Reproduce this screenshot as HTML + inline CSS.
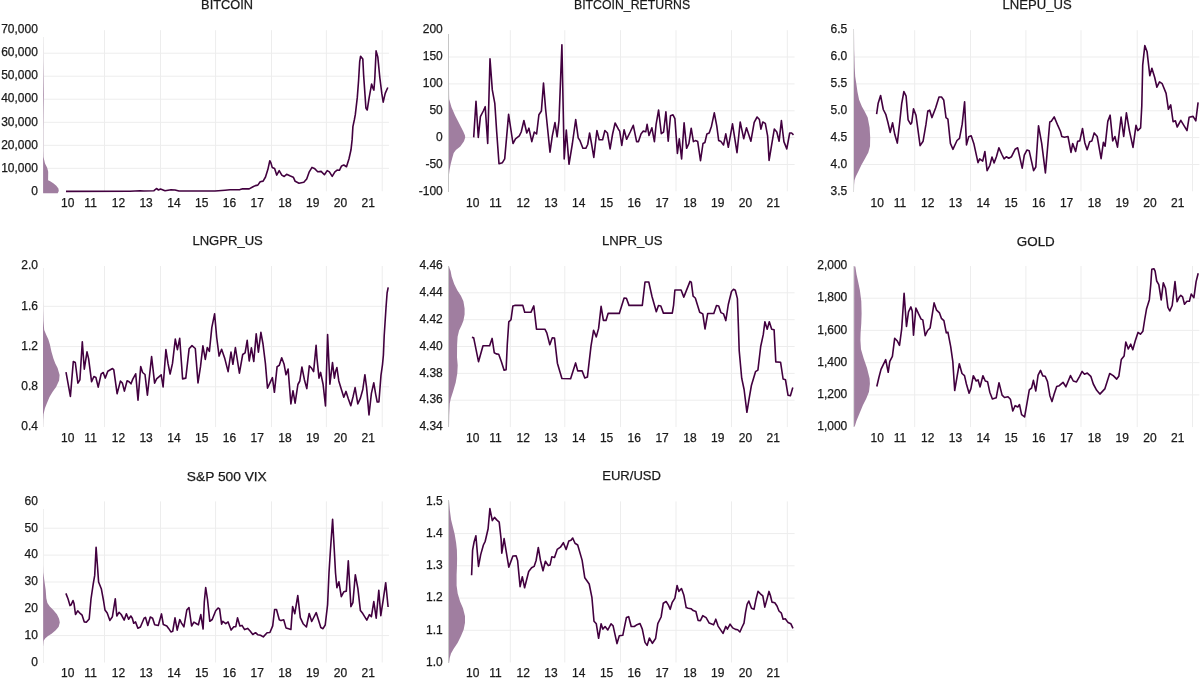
<!DOCTYPE html><html><head><meta charset="utf-8"><style>html,body{margin:0;padding:0;background:#fff;width:1200px;height:678px;overflow:hidden}svg{display:block;will-change:transform}text{font-family:"Liberation Sans",sans-serif;fill:#1a1a1a;stroke:#1a1a1a;stroke-width:0.25px}</style></head><body>
<svg width="1200" height="678" viewBox="0 0 1200 678">
<rect width="1200" height="678" fill="#fff"/>
<path d="M104.5 30.2V191.3M160.5 30.2V191.3M215.6 30.2V191.3M271.5 30.2V191.3M326.4 30.2V191.3M382.2 30.2V191.3M43.2 168.3H389M43.2 145.3H389M43.2 122.3H389M43.2 99.2H389M43.2 76.2H389M43.2 53.2H389" stroke="#ededed" stroke-width="1" fill="none"/>
<text x="37.9" y="194.5" font-size="12" text-anchor="end">0</text>
<text x="37.9" y="171.5" font-size="12" text-anchor="end">10,000</text>
<text x="37.9" y="148.5" font-size="12" text-anchor="end">20,000</text>
<text x="37.9" y="125.5" font-size="12" text-anchor="end">30,000</text>
<text x="37.9" y="102.4" font-size="12" text-anchor="end">40,000</text>
<text x="37.9" y="79.4" font-size="12" text-anchor="end">50,000</text>
<text x="37.9" y="56.4" font-size="12" text-anchor="end">60,000</text>
<text x="37.9" y="33.4" font-size="12" text-anchor="end">70,000</text>
<text x="67.8" y="206.9" font-size="12" text-anchor="middle">10</text>
<text x="90.6" y="206.9" font-size="12" text-anchor="middle">11</text>
<text x="118.4" y="206.9" font-size="12" text-anchor="middle">12</text>
<text x="146.1" y="206.9" font-size="12" text-anchor="middle">13</text>
<text x="173.9" y="206.9" font-size="12" text-anchor="middle">14</text>
<text x="201.7" y="206.9" font-size="12" text-anchor="middle">15</text>
<text x="229.4" y="206.9" font-size="12" text-anchor="middle">16</text>
<text x="257.2" y="206.9" font-size="12" text-anchor="middle">17</text>
<text x="285" y="206.9" font-size="12" text-anchor="middle">18</text>
<text x="312.8" y="206.9" font-size="12" text-anchor="middle">19</text>
<text x="340.5" y="206.9" font-size="12" text-anchor="middle">20</text>
<text x="368.3" y="206.9" font-size="12" text-anchor="middle">21</text>
<text x="201.1" y="9.3" font-size="13.3" textLength="51.9" lengthAdjust="spacingAndGlyphs">BITCOIN</text>
<rect x="43" y="37" width="1" height="156" fill="#efefef"/>
<path d="M43.1 38 L43.2 60 L43.5 78 L43.8 95 L43.5 112 L43.3 130 L43.3 150 L43.5 157 L44.2 160 L45 163.5 L47.2 167.7 L48.2 171.7 L48.1 180.2 L50.2 181.2 L53.3 183.2 L56.3 185.8 L58.4 188.5 L58.8 191 L57.7 193.3 L43.1 193.3 Z" fill="#a07ea0"/>
<polyline points="66,191.4 130,191.2 140,190.7 144,191 154,190.7 156.5,188.5 158.5,190 160.5,189 165,190.7 171,189.7 175,190 179,191 215,191 225,190.2 230,189.8 240,189.6 242,188.9 249.2,188.9 253,186.8 255.4,185.6 257.8,185.1 260.2,181.8 263.1,181.1 265.5,177 267.9,169.3 269.8,160.7 271,163.1 272.2,167.4 274.6,168.4 276.7,175.1 279.2,170.7 281.8,175.1 284.2,176.5 286.6,174.3 290.4,176 293.3,177.2 295.2,181.3 299,183.2 303.8,182.3 306.7,178.9 309.1,172.2 312,167.4 314.4,168.4 317.7,171.7 321.1,171.4 324.4,174.7 327.2,170.6 329.4,171.9 332.2,176.4 334.9,171.9 337.1,170.1 339.4,170.3 341.6,165.9 343.8,165 346.5,166.7 349,158.7 351,149.8 352.1,139.9 352.9,126.6 354.3,120 355.3,114.7 357.3,97.4 358.6,80.2 359.7,61.6 360.6,56.2 362.8,58.9 363.6,74.8 365,94.8 365.9,108 367.2,110 369.2,97.4 371.6,84.1 372.9,88.1 373.9,90.1 374.8,78.8 376.1,50.9 377.8,56.9 379.8,77.5 381.8,93.4 383.2,102.1 385.2,93.4 387.8,87.5" fill="none" stroke="#42003f" stroke-width="1.6" stroke-linejoin="round"/>
<path d="M510.3 30.2V191.3M564.8 30.2V191.3M620.5 30.2V191.3M676 30.2V191.3M731.5 30.2V191.3M787.3 30.2V191.3M449 164.5H794.6M449 137.6H794.6M449 110.8H794.6M449 83.9H794.6M449 57H794.6" stroke="#ededed" stroke-width="1" fill="none"/>
<text x="442.8" y="194.5" font-size="12" text-anchor="end">-100</text>
<text x="442.8" y="167.7" font-size="12" text-anchor="end">-50</text>
<text x="442.8" y="140.8" font-size="12" text-anchor="end">0</text>
<text x="442.8" y="114" font-size="12" text-anchor="end">50</text>
<text x="442.8" y="87.1" font-size="12" text-anchor="end">100</text>
<text x="442.8" y="60.2" font-size="12" text-anchor="end">150</text>
<text x="442.8" y="33.4" font-size="12" text-anchor="end">200</text>
<text x="472.7" y="206.9" font-size="12" text-anchor="middle">10</text>
<text x="495.5" y="206.9" font-size="12" text-anchor="middle">11</text>
<text x="523.3" y="206.9" font-size="12" text-anchor="middle">12</text>
<text x="551" y="206.9" font-size="12" text-anchor="middle">13</text>
<text x="578.8" y="206.9" font-size="12" text-anchor="middle">14</text>
<text x="606.6" y="206.9" font-size="12" text-anchor="middle">15</text>
<text x="634.3" y="206.9" font-size="12" text-anchor="middle">16</text>
<text x="662.1" y="206.9" font-size="12" text-anchor="middle">17</text>
<text x="689.9" y="206.9" font-size="12" text-anchor="middle">18</text>
<text x="717.7" y="206.9" font-size="12" text-anchor="middle">19</text>
<text x="745.4" y="206.9" font-size="12" text-anchor="middle">20</text>
<text x="773.2" y="206.9" font-size="12" text-anchor="middle">21</text>
<text x="574" y="9.3" font-size="13.3" textLength="116.1" lengthAdjust="spacingAndGlyphs">BITCOIN_RETURNS</text>
<rect x="448" y="34" width="1" height="158" fill="#c6c6c6"/>
<path d="M449 80 L449.1 95 L449.2 99.2 L451.5 107.3 L455.1 115.4 L459.6 124.2 L463.3 131.6 L465 135.5 L465.2 137.5 L464 141.2 L460.3 146.4 L455.9 150 L453.7 153 L452.2 158.2 L450.7 164 L449.5 170 L449 174.4 Z" fill="#a07ea0"/>
<polyline points="473.7,137.4 476,101.4 478.3,137.4 480.4,116.7 483.3,111 485.2,106.7 487.7,143.5 490,58.8 492.3,89.9 494.8,103.3 496.7,132 499,163.7 502.4,162.7 504.7,158.9 508.6,114.4 513,143.5 515.5,138.8 519.3,135.9 521.2,132 523.9,120.5 526.8,133 528.9,128.2 531.8,141.6 534.3,132 536.6,134 538.9,114.8 541.4,111 543.5,83.1 545.6,109 550,152.2 552.3,135.9 555,122.5 557.1,136.8 559,120.5 561.9,44.8 564.2,158.9 566.3,130.1 569,164.3 572.4,143.5 575.7,119.6 578.2,137.8 580,140.7 582.9,148.3 585.8,148.3 587.7,144.5 589.6,133 591.5,143.5 593.8,157.4 596.9,130.5 599.2,139.7 602.6,139.7 604.9,130.5 607.4,133 610.1,148.9 612.6,134 615.1,123 618.4,129.2 619.7,131.1 621.8,145.5 624.1,129.7 626.6,139.3 630.2,132 633.3,125.3 636.6,141.6 638.5,141.6 641,134 643.3,131.1 645.8,131.7 647.1,124.4 649,135.5 651.9,127.8 654.4,141.6 656.1,124.4 658.6,110 661.3,133.6 663.6,132 665.9,111.9 668.2,141.2 670.5,115.7 673,114.8 674.9,118.6 677.4,153.5 679.3,138.8 681.6,158.9 684.1,122.8 686.6,148.3 688.9,143.5 691.2,128.2 693.4,141.6 695.4,140.6 697.7,141.6 700.5,160.7 703,143.5 704.9,142.5 706.9,133.9 709.2,133 711.5,126.2 714.3,112.8 716.8,126.2 718.7,140.6 721,141.6 723.5,145 725.8,133.9 728.3,147.3 732.5,123.9 737,152.7 740.2,122 743.7,138.7 746.5,127.8 750.9,141.2 754.2,122.4 757.1,117 759.4,119.5 760.9,129.1 762.8,122 765.3,123.4 767.6,135.8 769.1,160.4 771.4,146.4 774.3,129.1 776.8,132 779.1,141.2 781.4,120.5 783.9,141.6 786.8,148.9 789.7,133 791.6,133 793.5,134.9" fill="none" stroke="#42003f" stroke-width="1.6" stroke-linejoin="round"/>
<path d="M914.7 30.2V191.3M970.5 30.2V191.3M1025.9 30.2V191.3M1081 30.2V191.3M1137.2 30.2V191.3M1192.5 30.2V191.3M853.4 164.5H1199.4M853.4 137.6H1199.4M853.4 110.8H1199.4M853.4 83.9H1199.4M853.4 57H1199.4" stroke="#ededed" stroke-width="1" fill="none"/>
<text x="847.3" y="194.5" font-size="12" text-anchor="end">3.5</text>
<text x="847.3" y="167.7" font-size="12" text-anchor="end">4.0</text>
<text x="847.3" y="140.8" font-size="12" text-anchor="end">4.5</text>
<text x="847.3" y="114" font-size="12" text-anchor="end">5.0</text>
<text x="847.3" y="87.1" font-size="12" text-anchor="end">5.5</text>
<text x="847.3" y="60.2" font-size="12" text-anchor="end">6.0</text>
<text x="847.3" y="33.4" font-size="12" text-anchor="end">6.5</text>
<text x="877.2" y="206.9" font-size="12" text-anchor="middle">10</text>
<text x="900" y="206.9" font-size="12" text-anchor="middle">11</text>
<text x="927.8" y="206.9" font-size="12" text-anchor="middle">12</text>
<text x="955.5" y="206.9" font-size="12" text-anchor="middle">13</text>
<text x="983.3" y="206.9" font-size="12" text-anchor="middle">14</text>
<text x="1011.1" y="206.9" font-size="12" text-anchor="middle">15</text>
<text x="1038.8" y="206.9" font-size="12" text-anchor="middle">16</text>
<text x="1066.6" y="206.9" font-size="12" text-anchor="middle">17</text>
<text x="1094.4" y="206.9" font-size="12" text-anchor="middle">18</text>
<text x="1122.2" y="206.9" font-size="12" text-anchor="middle">19</text>
<text x="1149.9" y="206.9" font-size="12" text-anchor="middle">20</text>
<text x="1177.7" y="206.9" font-size="12" text-anchor="middle">21</text>
<text x="1002.6" y="9.3" font-size="13.3" textLength="69.1" lengthAdjust="spacingAndGlyphs">LNEPU_US</text>
<rect x="853" y="29" width="1" height="163" fill="#dedede"/>
<path d="M854 30 L854.2 50 L854.7 67.7 L855.2 76.5 L856.4 84.2 L857.5 92 L859.1 99.7 L861.9 106.4 L864.7 111.5 L867.7 117.5 L869.6 127.5 L870.2 137.6 L870 146.3 L868.3 152.6 L865.2 158.2 L861.4 165.1 L858.3 171.4 L855.8 176.4 L854.5 180.2 L854.1 185 L854 191.5 Z" fill="#a07ea0"/>
<polyline points="876.6,114.2 878.1,103.6 880.6,95.5 883.3,109.5 885.9,114.7 888,122.8 890.2,132.4 892.6,122.8 894.8,134.6 897.3,143.1 899.5,124.2 901.7,103.6 903.9,91.5 906.1,96.2 908.1,119.8 910.6,124.2 911.7,122.8 913.5,108.8 916,115.4 920.1,145.6 923.1,141.2 926,124.2 927.8,111 929.7,110.2 931.9,117.6 935.6,108 939,97 941.5,97 943.7,99.9 946,117.6 947.9,119.1 950.4,143.4 952.9,149.3 957,140.5 959.5,138.3 962.2,124.2 964.6,101.8 966.5,144.9 968.7,136.8 971.2,135.8 973.8,143.4 978,162.6 979.7,158.9 982.7,161.1 984.9,151.5 987.1,170.7 989.8,165.5 992,157 994.1,162.9 996.4,156.7 998.9,147.8 1001.9,154.5 1004.1,158.9 1006.3,156.7 1008.8,158.2 1011.5,156.7 1015.1,149.3 1017.7,147.8 1022.2,168.2 1024.3,155.2 1026.9,150.1 1029.2,150.8 1033.6,170.7 1035.8,167 1038.5,125.7 1041.7,143.4 1045.4,172.9 1049.8,122 1051.3,121.3 1054.2,116.9 1057.9,125.7 1060.5,131.5 1061.8,136.5 1064.4,137.3 1068,136.5 1071,152.4 1072.7,143.5 1075.6,151.5 1077.7,141.2 1079.8,140.9 1082.5,128.5 1084.8,142.7 1087.1,149.7 1089.7,141.8 1091.9,140.9 1094.2,132.9 1097.2,136.5 1101.1,158.6 1103.4,142.3 1105.1,146.2 1107.8,121.4 1110.1,115.2 1112.7,140.9 1114.9,136.5 1117.5,147.1 1121.1,117 1123.7,136.5 1126.4,112.8 1129.4,130.6 1133,147.4 1136,125.3 1137.7,130.6 1140.6,127.9 1141.8,105.8 1142.7,65.1 1144.8,45.6 1147.1,51.8 1149.8,75.7 1151.9,68.3 1154.7,77.5 1156.9,87.2 1159.5,81.9 1162.2,83.7 1166.1,93.4 1168.4,109.3 1170.7,104.9 1173.1,121.7 1175.4,120.8 1177.2,127 1180.8,120.3 1184.3,126.2 1187,130.6 1189.1,117.3 1193.1,116.4 1195.8,120.8 1198.1,102.3" fill="none" stroke="#42003f" stroke-width="1.6" stroke-linejoin="round"/>
<path d="M104.5 266V427.1M160.5 266V427.1M215.6 266V427.1M271.5 266V427.1M326.4 266V427.1M382.2 266V427.1M43.2 386.8H389M43.2 346.6H389M43.2 306.3H389" stroke="#ededed" stroke-width="1" fill="none"/>
<text x="37.9" y="430.3" font-size="12" text-anchor="end">0.4</text>
<text x="37.9" y="390" font-size="12" text-anchor="end">0.8</text>
<text x="37.9" y="349.8" font-size="12" text-anchor="end">1.2</text>
<text x="37.9" y="309.5" font-size="12" text-anchor="end">1.6</text>
<text x="37.9" y="269.2" font-size="12" text-anchor="end">2.0</text>
<text x="67.8" y="441.9" font-size="12" text-anchor="middle">10</text>
<text x="90.6" y="441.9" font-size="12" text-anchor="middle">11</text>
<text x="118.4" y="441.9" font-size="12" text-anchor="middle">12</text>
<text x="146.1" y="441.9" font-size="12" text-anchor="middle">13</text>
<text x="173.9" y="441.9" font-size="12" text-anchor="middle">14</text>
<text x="201.7" y="441.9" font-size="12" text-anchor="middle">15</text>
<text x="229.4" y="441.9" font-size="12" text-anchor="middle">16</text>
<text x="257.2" y="441.9" font-size="12" text-anchor="middle">17</text>
<text x="285" y="441.9" font-size="12" text-anchor="middle">18</text>
<text x="312.8" y="441.9" font-size="12" text-anchor="middle">19</text>
<text x="340.5" y="441.9" font-size="12" text-anchor="middle">20</text>
<text x="368.3" y="441.9" font-size="12" text-anchor="middle">21</text>
<text x="192.4" y="245.2" font-size="13.3" textLength="70.4" lengthAdjust="spacingAndGlyphs">LNGPR_US</text>
<rect x="43" y="268" width="1" height="159" fill="#efefef"/>
<path d="M43 300 L43.1 310 L43.4 320.6 L44.2 329.9 L46.3 335.1 L48.3 339.2 L49.9 344.4 L51.4 351.6 L53.5 358.8 L55.3 363.5 L57.6 368 L59.6 375 L59.1 380.6 L56.1 387.1 L52.5 392.1 L49.5 397.1 L47 403.1 L45 408.1 L43.5 414.2 L43.1 420 L43 427 Z" fill="#a07ea0"/>
<polyline points="66,372.2 70.4,396.4 73.3,361.6 75.3,362.5 77.9,383.1 79.9,379.8 82.3,341.7 84.3,369.2 87,351.9 88.6,358.6 91.6,381.8 93.9,376.5 95.9,377.5 98.2,387.1 101.2,373.8 103.2,372.5 105.2,378.1 107.8,371.2 112.5,368.5 113.8,369.8 117.1,393.7 120.4,381.1 122.4,383.1 124.4,391.1 127.1,380.7 129.1,381.8 131,383.8 132.8,379.1 135.7,373.8 138,400.1 140.7,366.5 142.6,372.5 145,374.5 147.4,395.1 151.6,356.6 154.6,383.1 156.6,378.9 161.2,374.8 163.1,387 165.9,349.6 168,363.4 170.1,374 172.5,363.4 175.3,339.1 177.4,349.6 179.7,338.3 182.6,378.9 185.8,378.1 189.1,348.8 192,345.6 195.3,348.5 198,382.9 200.5,366.7 202.9,345.9 205.3,359.4 207.3,347.5 209.4,351.3 211.8,327.7 214.6,313.9 216.7,337.5 219.1,356.1 221.6,349.2 224.8,358.6 228.1,371.6 231,352.1 232.9,364.3 235.4,347.5 239.4,373.2 242.7,354.5 245.1,352.9 247.2,340.4 249.2,361 251.4,347.8 253.8,361.5 256.2,333.9 258.4,352.1 260.9,332.3 263,344 265.4,363.4 267.5,388.1 270.3,382.1 272.4,377.7 274.4,392.3 277.1,366.7 279.2,365.4 281.7,357.8 284.1,364.3 286,374.8 288.1,369.1 290.9,404 293,390.7 295.1,403.2 297.9,384.5 299.8,381 301.9,367 304.4,379.7 306.8,388.6 309.3,365.9 311.7,368.3 313.6,371.6 316.1,345.3 317,358.6 319,378.1 320.6,372.4 323.1,384.5 325.5,406 327.6,334.5 329.9,384.2 332.5,362.6 334.4,378.1 335.5,371.8 336.9,367.5 338.8,380.9 341.7,390.5 343.8,397.2 346,391.4 348.4,399.1 350.8,405.8 353.2,396.2 355.1,387.6 357.8,403.9 360.4,398.1 362.8,389.5 364.9,374.7 366.6,387.6 369,414.9 371.4,393.4 373.8,382.8 375.7,394.3 377.2,402 378.9,402 380.1,386.6 381,375.1 382.5,364.6 383.4,355 384.2,335.7 386.1,306.2 387.1,293 388.2,287.4" fill="none" stroke="#42003f" stroke-width="1.6" stroke-linejoin="round"/>
<path d="M510.3 266V427.1M564.8 266V427.1M620.5 266V427.1M676 266V427.1M731.5 266V427.1M787.3 266V427.1M449 400.2H794.6M449 373.4H794.6M449 346.5H794.6M449 319.7H794.6M449 292.8H794.6" stroke="#ededed" stroke-width="1" fill="none"/>
<text x="442.8" y="430.3" font-size="12" text-anchor="end">4.34</text>
<text x="442.8" y="403.4" font-size="12" text-anchor="end">4.36</text>
<text x="442.8" y="376.6" font-size="12" text-anchor="end">4.38</text>
<text x="442.8" y="349.7" font-size="12" text-anchor="end">4.40</text>
<text x="442.8" y="322.9" font-size="12" text-anchor="end">4.42</text>
<text x="442.8" y="296" font-size="12" text-anchor="end">4.44</text>
<text x="442.8" y="269.2" font-size="12" text-anchor="end">4.46</text>
<text x="472.7" y="441.9" font-size="12" text-anchor="middle">10</text>
<text x="495.5" y="441.9" font-size="12" text-anchor="middle">11</text>
<text x="523.3" y="441.9" font-size="12" text-anchor="middle">12</text>
<text x="551" y="441.9" font-size="12" text-anchor="middle">13</text>
<text x="578.8" y="441.9" font-size="12" text-anchor="middle">14</text>
<text x="606.6" y="441.9" font-size="12" text-anchor="middle">15</text>
<text x="634.3" y="441.9" font-size="12" text-anchor="middle">16</text>
<text x="662.1" y="441.9" font-size="12" text-anchor="middle">17</text>
<text x="689.9" y="441.9" font-size="12" text-anchor="middle">18</text>
<text x="717.7" y="441.9" font-size="12" text-anchor="middle">19</text>
<text x="745.4" y="441.9" font-size="12" text-anchor="middle">20</text>
<text x="773.2" y="441.9" font-size="12" text-anchor="middle">21</text>
<text x="602" y="245.2" font-size="13.3" textLength="60.6" lengthAdjust="spacingAndGlyphs">LNPR_US</text>
<rect x="448" y="266" width="1" height="161" fill="#c6c6c6"/>
<path d="M449 266.3 L449.6 268.5 L450.6 271 L451.7 276.7 L454.2 284 L457.3 290.2 L460.9 295.7 L463.4 301.2 L464.6 308.5 L464.6 314.6 L463.4 320.8 L461.5 325.6 L459.1 330.5 L457.6 336.7 L457.1 345 L457 357.3 L457.7 365.2 L457.3 373.2 L455.7 382.5 L453 391.8 L450.8 398.4 L449.7 403.7 L449.2 415 L449 427.5 Z" fill="#a07ea0"/>
<polyline points="471.9,337.4 473.7,337.8 478.5,361.7 483,345.8 489.6,345.8 492.1,338.4 494.3,352.8 496.2,353.9 498.7,354.3 501.4,361.7 504.1,370.3 506.1,369.8 507.3,344 508.8,321.9 511,319.7 512.9,305.9 514.7,305.4 522.8,305.4 524.7,312.3 530.9,312.3 533.8,305.9 536.5,329.2 544.9,329.2 546.8,332.9 549.8,344.7 552.3,337.8 554.5,338.1 557.4,363.2 561.9,378.5 570.6,378.8 575.6,362.9 577.7,370.9 582.1,370.9 584.8,378 587.4,377.1 591,346.1 593.6,330.2 596.3,336.9 598.6,328.4 601.1,306.3 603.4,320.4 606,320.4 608.1,313.4 619.3,313.4 624.1,298 626.4,298.3 629,305.4 642.3,305.4 645,282 648.8,282 652,296.5 656.3,311.7 658.5,305.5 660.8,306 663.4,313.1 672.3,313.1 673.6,305.1 674.9,290 681.1,290 683.8,297.1 690,281.4 691.3,282.1 693.1,296.2 695.3,298 699.7,312.2 702.8,313.9 705,329 707.7,313.5 713.8,313.5 716.5,305.5 718.7,306 720.9,312.6 723.6,313.9 725.8,320.6 728.3,304.5 731.5,291.5 733.5,289.3 735.3,290.3 737.4,298.6 738.4,326.2 739.2,350.6 741.7,378.2 744.1,389.5 746.9,412.3 749,399.3 751.4,385.5 755.5,371.7 757.9,370.1 760.7,346.5 763.3,334.4 764.9,321.7 767.2,329.2 769.3,321.7 771.7,329.2 774.1,329.8 775.8,361.9 780.6,362.3 783.1,379 785.5,379.8 788,395.2 790.4,395.7 792.8,387.6" fill="none" stroke="#42003f" stroke-width="1.6" stroke-linejoin="round"/>
<path d="M914.7 266V427.1M970.5 266V427.1M1025.9 266V427.1M1081 266V427.1M1137.2 266V427.1M1192.5 266V427.1M853.4 394.9H1199.4M853.4 362.7H1199.4M853.4 330.4H1199.4M853.4 298.2H1199.4" stroke="#ededed" stroke-width="1" fill="none"/>
<text x="847.3" y="430.3" font-size="12" text-anchor="end">1,000</text>
<text x="847.3" y="398.1" font-size="12" text-anchor="end">1,200</text>
<text x="847.3" y="365.9" font-size="12" text-anchor="end">1,400</text>
<text x="847.3" y="333.6" font-size="12" text-anchor="end">1,600</text>
<text x="847.3" y="301.4" font-size="12" text-anchor="end">1,800</text>
<text x="847.3" y="269.2" font-size="12" text-anchor="end">2,000</text>
<text x="877.2" y="441.9" font-size="12" text-anchor="middle">10</text>
<text x="900" y="441.9" font-size="12" text-anchor="middle">11</text>
<text x="927.8" y="441.9" font-size="12" text-anchor="middle">12</text>
<text x="955.5" y="441.9" font-size="12" text-anchor="middle">13</text>
<text x="983.3" y="441.9" font-size="12" text-anchor="middle">14</text>
<text x="1011.1" y="441.9" font-size="12" text-anchor="middle">15</text>
<text x="1038.8" y="441.9" font-size="12" text-anchor="middle">16</text>
<text x="1066.6" y="441.9" font-size="12" text-anchor="middle">17</text>
<text x="1094.4" y="441.9" font-size="12" text-anchor="middle">18</text>
<text x="1122.2" y="441.9" font-size="12" text-anchor="middle">19</text>
<text x="1149.9" y="441.9" font-size="12" text-anchor="middle">20</text>
<text x="1177.7" y="441.9" font-size="12" text-anchor="middle">21</text>
<text x="1016.8" y="245.5" font-size="13.3" textLength="38" lengthAdjust="spacingAndGlyphs">GOLD</text>
<rect x="853" y="266" width="1" height="161" fill="#dedede"/>
<path d="M854.2 266.3 L855.3 266.5 L856.5 274.2 L858.1 281.6 L859.9 290.2 L861.3 301.2 L861.6 313.4 L861.3 323.2 L860.6 333 L860.4 340 L861 349.3 L863.7 358.6 L867 367.9 L869.6 378.5 L869.9 383.8 L869 391.8 L866.3 398.4 L863 405.1 L859.7 413 L856.4 421 L854.8 426.3 L854.1 427 Z" fill="#a07ea0"/>
<polyline points="876.8,386.5 878.9,377.5 881,369.4 885.7,359.7 888.2,372.3 889.8,361.3 892.4,356.4 894.7,338.2 897.3,341 899.5,345.4 901.7,328.8 904.1,293.4 906.5,326.4 908.5,311.8 910.9,306.9 912.2,311 913.5,335.3 915.9,308.1 918.7,314.2 921.1,319.1 922.8,319.9 925.2,335.6 927.6,330.5 930.1,328 934.1,302.9 936.6,310.2 939.5,312.9 941.4,318.3 943.9,320.7 946.3,332.9 947.9,332.1 950.7,346.7 952.8,361.3 954.7,390.5 959.3,363.7 962,373.5 964.5,375.6 966.4,384 969.1,393.3 970.9,388.6 973.3,375.7 976.2,381 978,379.8 980.1,386.9 982.9,375.7 985.3,381 987.6,381.8 989.8,392.2 992.4,399 996.2,397.8 999,382.7 1002.1,395.1 1004.5,397.5 1008,396.7 1010.4,399.2 1012.8,411 1015.1,405.7 1017.8,406.9 1019.5,404.6 1021.6,414.6 1024.6,416.9 1029.3,389.8 1031.6,388 1033.4,380.4 1035.8,391 1038.1,375.1 1040.5,370.4 1042.8,375.9 1045.2,376.3 1047.5,381.6 1049.9,395.7 1052,401.6 1054,394.5 1056.7,386.5 1059.3,385.7 1063,382.3 1065.9,386.8 1070.5,375.6 1073.3,381 1076.5,381.9 1079.6,376.3 1082.1,371.4 1084.5,374.2 1087.3,373.1 1090.8,376.3 1093.3,384 1096.7,390.3 1099.9,394.1 1104.8,388.9 1109.7,373.5 1113.2,375.6 1116.7,379.1 1118.8,376.3 1121.3,359.5 1124.1,356 1125.8,342 1128.3,349 1130.7,344.1 1132.8,349.7 1135.2,341 1138,332.4 1140.4,334.2 1142.9,331.2 1144.7,319.5 1146.5,309.1 1149.3,299.9 1150.8,284 1151.8,269.3 1153.9,268.7 1155.1,271.2 1156.7,281 1158.8,284.6 1161.2,299.9 1163.3,282.8 1165.5,288.3 1167.9,307.3 1169.8,311 1172.2,305.5 1175,281.6 1177.1,301.8 1179,297.5 1180.8,295.3 1182.6,296.9 1184.5,304.2 1186.9,301.2 1189.4,301.2 1191.2,294.1 1193.9,297.7 1196.1,281.6 1198.2,273.3" fill="none" stroke="#42003f" stroke-width="1.6" stroke-linejoin="round"/>
<path d="M104.5 501.4V662.5M160.5 501.4V662.5M215.6 501.4V662.5M271.5 501.4V662.5M326.4 501.4V662.5M382.2 501.4V662.5M43.2 635.6H389M43.2 608.8H389M43.2 582H389M43.2 555.1H389M43.2 528.2H389" stroke="#ededed" stroke-width="1" fill="none"/>
<text x="37.9" y="665.7" font-size="12" text-anchor="end">0</text>
<text x="37.9" y="638.9" font-size="12" text-anchor="end">10</text>
<text x="37.9" y="612" font-size="12" text-anchor="end">20</text>
<text x="37.9" y="585.2" font-size="12" text-anchor="end">30</text>
<text x="37.9" y="558.3" font-size="12" text-anchor="end">40</text>
<text x="37.9" y="531.5" font-size="12" text-anchor="end">50</text>
<text x="37.9" y="504.6" font-size="12" text-anchor="end">60</text>
<text x="67.8" y="677" font-size="12" text-anchor="middle">10</text>
<text x="90.6" y="677" font-size="12" text-anchor="middle">11</text>
<text x="118.4" y="677" font-size="12" text-anchor="middle">12</text>
<text x="146.1" y="677" font-size="12" text-anchor="middle">13</text>
<text x="173.9" y="677" font-size="12" text-anchor="middle">14</text>
<text x="201.7" y="677" font-size="12" text-anchor="middle">15</text>
<text x="229.4" y="677" font-size="12" text-anchor="middle">16</text>
<text x="257.2" y="677" font-size="12" text-anchor="middle">17</text>
<text x="285" y="677" font-size="12" text-anchor="middle">18</text>
<text x="312.8" y="677" font-size="12" text-anchor="middle">19</text>
<text x="340.5" y="677" font-size="12" text-anchor="middle">20</text>
<text x="368.3" y="677" font-size="12" text-anchor="middle">21</text>
<text x="186.8" y="480.7" font-size="13.3" textLength="80" lengthAdjust="spacingAndGlyphs">S&amp;P 500 VIX</text>
<rect x="43" y="509" width="1" height="154" fill="#efefef"/>
<path d="M43.1 565 L43.3 572.4 L44.5 581.8 L45.7 590.1 L46.3 598.3 L47.4 603.1 L49.8 606.6 L53.3 610.1 L56.9 614.3 L59 618.4 L59.8 622.5 L58.7 626.7 L55.7 630.2 L51.6 633.8 L48 636.1 L45.1 638.5 L43.7 640.8 L43.2 646.7 Z" fill="#a07ea0"/>
<polyline points="65.9,593.4 68.1,599 70,605.6 71.1,604.9 73,600.5 74,603.4 75.5,614.5 77.7,610.8 80.4,613.7 82.1,615.2 84.3,621.9 86.3,622.3 89.2,618.9 91,599 93.2,584.2 94.7,575.4 96.1,547.4 97.6,568 98.6,582 101.3,588.7 103.5,600.5 105,610.1 107.2,613 109.9,620.4 112.4,616.7 115.3,598.7 116.8,616 119,612.3 121.2,614.5 124.2,620.1 126.4,613.7 128.6,619.2 130.8,616 132.3,618.2 133.7,623.3 135.5,621.9 137.9,628.2 140.4,627 144.1,618.2 145.5,617.4 147.8,625.5 150.3,617 152.6,618.2 154.7,624.8 158.3,625.5 161.5,613.9 163.3,624.5 166.8,626 168.6,628.4 170.9,631.9 172.7,631.3 175,617.8 177.2,630.1 179.8,619.5 181.5,623.1 183.9,626.8 186.8,610.1 189,607.5 191.6,626 193.9,622.1 196.9,624 198.4,624.8 200.8,614.6 203.1,629 204.3,601.8 205.7,587.5 207.5,599.5 209.8,621.3 212.2,619.5 215.7,610.7 218.1,608 219.6,608.9 221.6,624.2 222.8,621.3 225.8,623.7 228.1,621.9 231.1,630.1 233.8,626.8 235.8,626.6 237.5,617.8 239.9,626 242,625.4 244.6,629.6 247.6,628.4 249.9,630.7 252.8,634.5 255.5,632.7 257.7,634.7 260.5,635.3 263.3,636.9 267.1,632.7 269.9,632.5 272.7,625.9 274.6,609.5 276.5,609.5 279.3,619.8 281,620.6 283.7,619.8 286,627.9 288.7,628.7 290.9,629.4 292.6,606.5 294.8,613.7 297.8,595.5 300.3,617.6 303.1,623.7 306.4,627 309.2,613.5 311.7,621.5 316.2,612.6 320.8,627.5 323,628.7 325.2,625 327.6,604.6 329,572.7 330.4,550.8 332.6,519.3 334,544.8 335.5,572.7 336.9,587.7 338.9,581.7 341.3,596.6 343.9,591.7 346.3,591.1 348.3,560.8 350.9,606.6 352.9,602.6 355.3,574.7 357.9,588.7 360.4,610.6 362.8,613.6 366.8,620.1 369.4,614.6 371.4,616.6 373.8,601.6 376.2,618.1 378.8,590.3 380.8,615.6 383.4,598.6 385.7,582.7 388.1,607" fill="none" stroke="#42003f" stroke-width="1.6" stroke-linejoin="round"/>
<path d="M510.3 501.4V662.5M564.8 501.4V662.5M620.5 501.4V662.5M676 501.4V662.5M731.5 501.4V662.5M787.3 501.4V662.5M449 630.3H794.6M449 598.1H794.6M449 565.8H794.6M449 533.6H794.6" stroke="#ededed" stroke-width="1" fill="none"/>
<text x="442.8" y="665.7" font-size="12" text-anchor="end">1.0</text>
<text x="442.8" y="633.5" font-size="12" text-anchor="end">1.1</text>
<text x="442.8" y="601.3" font-size="12" text-anchor="end">1.2</text>
<text x="442.8" y="569" font-size="12" text-anchor="end">1.3</text>
<text x="442.8" y="536.8" font-size="12" text-anchor="end">1.4</text>
<text x="442.8" y="504.6" font-size="12" text-anchor="end">1.5</text>
<text x="472.7" y="677" font-size="12" text-anchor="middle">10</text>
<text x="495.5" y="677" font-size="12" text-anchor="middle">11</text>
<text x="523.3" y="677" font-size="12" text-anchor="middle">12</text>
<text x="551" y="677" font-size="12" text-anchor="middle">13</text>
<text x="578.8" y="677" font-size="12" text-anchor="middle">14</text>
<text x="606.6" y="677" font-size="12" text-anchor="middle">15</text>
<text x="634.3" y="677" font-size="12" text-anchor="middle">16</text>
<text x="662.1" y="677" font-size="12" text-anchor="middle">17</text>
<text x="689.9" y="677" font-size="12" text-anchor="middle">18</text>
<text x="717.7" y="677" font-size="12" text-anchor="middle">19</text>
<text x="745.4" y="677" font-size="12" text-anchor="middle">20</text>
<text x="773.2" y="677" font-size="12" text-anchor="middle">21</text>
<text x="602.2" y="480.3" font-size="13.3" textLength="58.8" lengthAdjust="spacingAndGlyphs">EUR/USD</text>
<rect x="448" y="500" width="1" height="163" fill="#c8c8c8"/>
<path d="M449 500.4 L449.8 510.1 L451.1 519.8 L452.9 527 L454.7 534.3 L456.1 542.7 L456.9 550 L457.1 558.5 L456.9 568.1 L456.6 575 L456.6 585.6 L457.7 593.6 L460.1 601.6 L463 608.2 L465 616.2 L465 622.8 L463.7 629.4 L461 636.1 L457.7 642.7 L453.7 648.7 L451 653.4 L449.7 658 L449 663.3 Z" fill="#a07ea0"/>
<polyline points="471.6,575.2 472.6,550.1 474.1,542 475.9,535.8 478.5,566.4 480.7,554.6 483.4,545 485.2,541.3 488.1,528.8 489.9,508.6 492.3,520.6 494.5,517.4 496.7,519.9 499.2,522.1 501.1,539.1 501.8,553.1 504.1,538.6 506.6,553.8 508.8,567.1 512.9,556 516.1,555.8 517.6,560.5 520.1,586.7 522.3,576.7 524.6,587.8 528.7,571.5 531.6,567.8 534.1,566.4 536.1,560.5 538.3,547.5 540.5,560.5 543,570.8 545.4,561.2 548.3,565.6 550.1,564.9 551.8,556.8 554.5,557.5 557.2,549.4 560.4,547.2 563.4,542.7 566.1,549.5 568.8,541 571,540.3 572.7,538 575,543.3 577.7,545 582.1,560.1 584.8,577.8 589.2,584 591.9,597.3 594,621.2 596.3,623.8 598.6,638.3 601.1,623.8 602.8,629.1 605.1,626.5 607.8,630 611,623.8 613.1,625.9 617,643.6 619.3,635.8 622.8,635.3 626.4,617.6 628.7,616.7 631.2,626.5 634.3,626.5 637,624.7 640,623.5 642.3,629.1 645,642.4 647.1,645.4 649.4,638 652.4,643.3 655.6,638.5 657.8,623.7 661.1,617 663.3,603.2 666.1,601.5 668.3,604.9 670.2,609.3 672.1,602.7 674.9,598.2 677.1,585.5 678.8,591.4 681.5,588.5 683.8,594.9 686.2,607.6 688.2,608.2 691,608.7 693.2,610.6 695.9,611.5 698.1,620.4 700.4,620.6 702.8,615.7 706.1,617.6 709.2,623.1 713.6,624.8 715.8,619.2 718.1,626.1 723,633.4 725.8,626.4 727.4,629.2 730.1,624.2 732.7,627.9 735.5,629.4 737.7,629.8 739.9,632 742.1,627 744,623.1 745.5,612.6 747.1,604.3 748.8,601 751.5,608.2 754,609.3 756,599.3 758,591.4 760.4,593.8 762.8,595.8 764.8,607.1 766.8,599.9 769,591.4 770.4,595.5 772,602.1 774.8,602.7 777,606 779,611 781.4,613.2 783.1,619.2 785.3,618.7 788.1,622.6 790.8,623.7 793,628.3" fill="none" stroke="#42003f" stroke-width="1.6" stroke-linejoin="round"/>
</svg></body></html>
